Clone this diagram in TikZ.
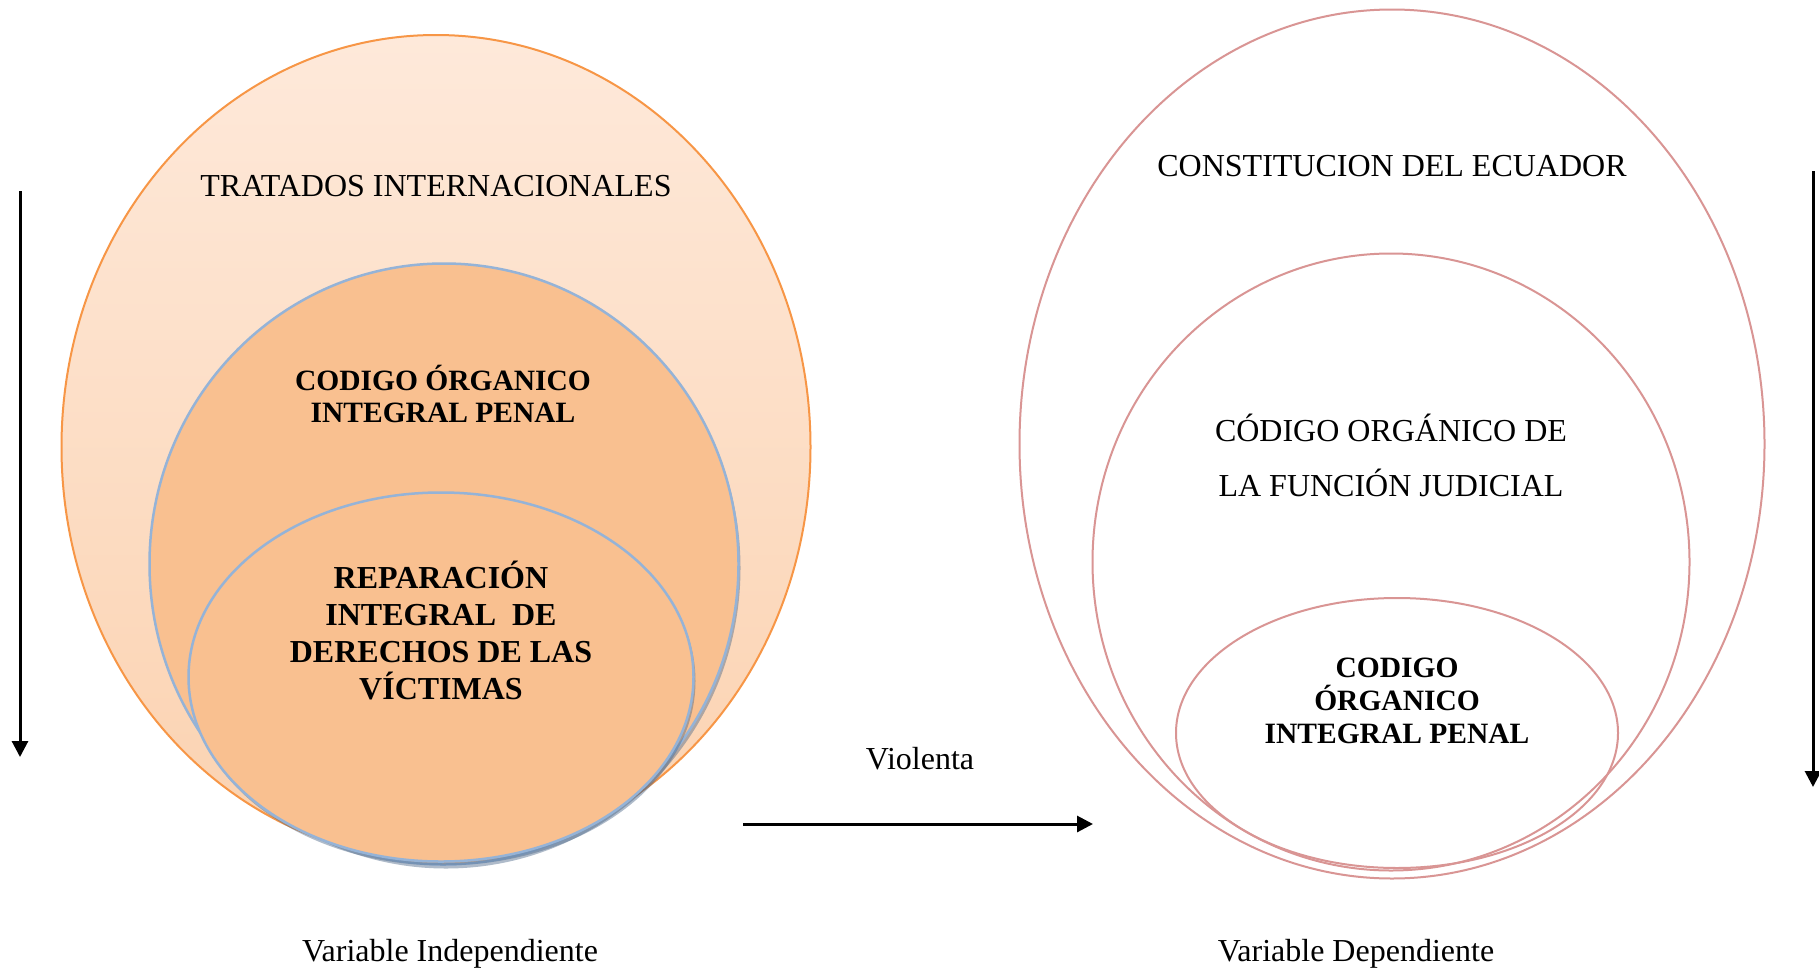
\documentclass[tikz,border=0pt]{standalone}
\usepackage{fontspec}
\setmainfont{Liberation Serif}
\usetikzlibrary{arrows.meta,shapes.geometric,shadows}
\definecolor{orangeline}{HTML}{F79646}
\definecolor{peach}{HTML}{F9C090}
\definecolor{peachtop}{HTML}{FEE9DA}
\definecolor{peachbot}{HTML}{FBD2B0}
\definecolor{blueline}{HTML}{95B3D7}
\definecolor{roseline}{HTML}{D99594}
\definecolor{shadowcol}{HTML}{4F6A8A}
\begin{document}
\begin{tikzpicture}[x=1pt,y=-1pt,
  lbl/.style={font=\fontsize{32}{37}\selectfont, align=center, inner sep=0pt},
  blbl/.style={font=\fontsize{32}{37}\selectfont\bfseries, align=center, inner sep=0pt},
  ell/.style={ellipse, inner sep=0pt, outer sep=0pt},
  orangeell/.style={ell, draw=orangeline, line width=2pt, top color=peachtop, bottom color=peachbot},
  blueell/.style={ell, draw=blueline, line width=2.5pt, fill=peach,
     drop shadow={shadow xshift=2pt, shadow yshift=-4pt, opacity=0.45, fill=shadowcol}},
  roseell/.style={ell, draw=roseline, line width=2pt},
  arr/.style={line width=3pt, -{Triangle[length=16pt,width=16pt]}}]
\useasboundingbox (0,0) rectangle (1819,969);
\fill[white] (0,0) rectangle (1819,969);

% left group
\node[orangeell, minimum width=749pt, minimum height=824pt] (outerL) at (436,447) {};
\node[blueell, minimum width=589pt, minimum height=601pt] (midL) at (444,564) {};
\node[blueell, minimum width=505pt, minimum height=369pt] (innerL) at (441,677) {};

\node[lbl] (tratados) at (436,186) {TRATADOS INTERNACIONALES};
\node[blbl, font=\fontsize{29.5}{32.5}\selectfont\bfseries] (coipL) at (443,394) {CODIGO ÓRGANICO\\INTEGRAL PENAL};
\node[blbl] (repar) at (441,631) {REPARACIÓN\\INTEGRAL\ \ DE\\DERECHOS DE LAS\\VÍCTIMAS};

% right group
\node[roseell, minimum width=745pt, minimum height=869pt] (outerR) at (1392,444) {};
\node[roseell, minimum width=597pt, minimum height=617pt] (midR) at (1391,562) {};
\node[roseell, minimum width=442pt, minimum height=270pt] (innerR) at (1397,733) {};

\node[lbl] (const) at (1392,166) {CONSTITUCION DEL ECUADOR};
\node[lbl, font=\fontsize{32}{55}\selectfont] (cofj) at (1391,455) {CÓDIGO ORGÁNICO DE\\LA FUNCIÓN JUDICIAL};
\node[blbl, font=\fontsize{29.5}{33}\selectfont\bfseries] (coipR) at (1397,701) {CODIGO\\ÓRGANICO\\INTEGRAL PENAL};

% labels
\node[lbl] (vind) at (450,954) {Variable Independiente};
\node[lbl] (vdep) at (1356,954) {Variable Dependiente};
\node[lbl] (viol) at (920,759) {Violenta};

% arrows
\coordinate (lA) at (20,191);
\coordinate (lB) at (20,757);
\coordinate (rA) at (1813,171);
\coordinate (rB) at (1813,787);
\coordinate (hA) at (743,824);
\coordinate (hB) at (1093,824);
\draw[arr] (lA) -- (lB);
\draw[arr] (rA) -- (rB);
\draw[arr] (hA) -- (hB);
\end{tikzpicture}
\end{document}
